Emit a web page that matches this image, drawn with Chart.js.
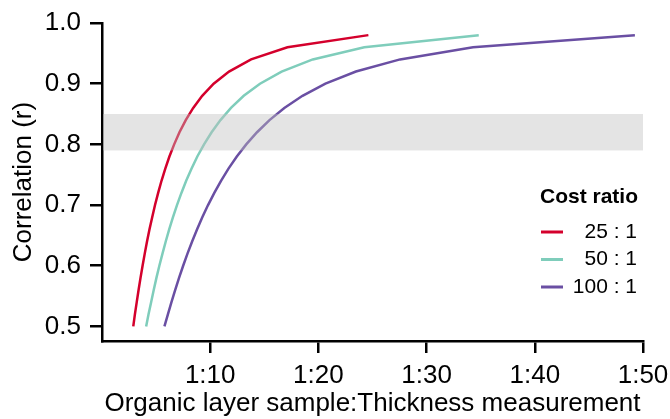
<!DOCTYPE html>
<html>
<head>
<meta charset="utf-8">
<title>Correlation vs sampling ratio</title>
<script src="https://cdn.jsdelivr.net/npm/chart.js@4.4.1/dist/chart.umd.min.js"></script>
<style>
  html, body { margin: 0; padding: 0; background: #fff; }
  canvas { display: block; }
</style>
</head>
<body>
<canvas id="ratio-chart" width="670" height="419"></canvas>
<script>
// Correlation levels (y) shared by the three curves
const corrLevels = [0.50, 0.52, 0.54, 0.56, 0.58, 0.60, 0.62, 0.64, 0.66, 0.68,
                    0.70, 0.72, 0.74, 0.76, 0.78, 0.80, 0.82, 0.84, 0.86, 0.88,
                    0.90, 0.92, 0.94, 0.96, 0.98];

// Thickness measurements per organic layer sample (x) for each cost ratio
const ratio25 = [2.89, 3.04, 3.21, 3.38, 3.56, 3.75, 3.95, 4.16, 4.39, 4.64,
                 4.90, 5.19, 5.50, 5.85, 6.23, 6.67, 7.16, 7.74, 8.43, 9.26,
                 10.32, 11.74, 13.78, 17.14, 24.62];
const ratio50 = [4.08, 4.30, 4.54, 4.78, 5.03, 5.30, 5.59, 5.89, 6.21, 6.56,
                 6.93, 7.34, 7.78, 8.27, 8.81, 9.43, 10.13, 10.95, 11.92, 13.10,
                 14.60, 16.60, 19.48, 24.24, 34.82];
const ratio100 = [5.77, 6.09, 6.42, 6.76, 7.12, 7.50, 7.90, 8.33, 8.79, 9.27,
                  9.80, 10.38, 11.00, 11.69, 12.46, 13.33, 14.33, 15.48, 16.85, 18.53,
                  20.65, 23.47, 27.55, 34.29, 49.25];

const costLabels = ['25 : 1', '50 : 1', '100 : 1'];
const costColors = ['#d4002c', '#7fcdbb', '#6a4fa3'];

const xTicks = [10, 20, 30, 40, 50];
const yTicks = [0.5, 0.6, 0.7, 0.8, 0.9, 1.0];

// Target correlation band
const bandRange = [0.79, 0.85];

const FONT = "'Liberation Sans', Arial, sans-serif";

function toPoints(xs) {
    return corrLevels.map((r, i) => ({ x: xs[i], y: r }));
}

// Grey band painted over the curves
const bandPlugin = {
    id: 'band',
    afterDatasetsDraw(chart) {
        const { ctx, chartArea, scales } = chart;
        const yTop = scales.y.getPixelForValue(bandRange[1]);
        const yBot = scales.y.getPixelForValue(bandRange[0]);
        ctx.save();
        ctx.fillStyle = 'rgba(190, 190, 190, 0.42)';
        ctx.fillRect(chartArea.left + 1, yTop, chartArea.right - chartArea.left - 1, yBot - yTop);
        ctx.restore();
    }
};

// Legend in the lower right corner of the plot
const costLegend = {
    id: 'costLegend',
    afterDraw(chart) {
        const { ctx, chartArea } = chart;
        const right = chartArea.right;
        const top = chartArea.top;
        ctx.save();
        ctx.fillStyle = '#000';
        ctx.font = 'bold 21px ' + FONT;
        ctx.textAlign = 'center';
        ctx.textBaseline = 'middle';
        ctx.fillText('Cost ratio', right - 54, top + 174);

        ctx.font = '21px ' + FONT;
        ctx.textAlign = 'right';
        chart.data.datasets.forEach((ds, i) => {
            const y = top + 209 + i * 27.5;
            ctx.strokeStyle = ds.borderColor;
            ctx.lineWidth = 3;
            ctx.beginPath();
            ctx.moveTo(right - 102, y);
            ctx.lineTo(right - 80, y);
            ctx.stroke();
            ctx.fillStyle = '#000';
            ctx.fillText(ds.label, right - 6, y);
        });
        ctx.restore();
    }
};

const canvas = document.getElementById('ratio-chart');

new Chart(canvas, {
    type: 'scatter',
    data: {
        datasets: [ratio25, ratio50, ratio100].map((xs, i) => ({
            label: costLabels[i],
            data: toPoints(xs),
            showLine: true,
            borderColor: costColors[i],
            backgroundColor: costColors[i],
            borderWidth: 2.5,
            pointRadius: 0,
            tension: 0
        }))
    },
    options: {
        responsive: false,
        animation: false,
        devicePixelRatio: 1,
        layout: {
            padding: { top: 23, right: 27, left: 0, bottom: 0 }
        },
        plugins: {
            legend: { display: false },
            tooltip: { enabled: false }
        },
        scales: {
            x: {
                type: 'linear',
                min: 0,
                max: 50,
                afterBuildTicks(scale) {
                    scale.ticks = xTicks.map(v => ({ value: v }));
                },
                afterFit(scale) {
                    scale.height = 78;
                    // the 1:50 label may hang into the right margin
                    scale.paddingLeft = 0;
                    scale.paddingRight = 0;
                },
                ticks: {
                    color: '#000',
                    padding: 7,
                    maxRotation: 0,
                    font: { family: FONT, size: 26 },
                    callback: value => '1:' + value
                },
                grid: {
                    drawOnChartArea: false,
                    drawTicks: true,
                    tickLength: 12,
                    color: '#000',
                    lineWidth: 2.5
                },
                border: { display: true, color: '#000', width: 2.5 },
                title: {
                    display: true,
                    text: 'Organic layer sample:Thickness measurement',
                    color: '#000',
                    font: { family: FONT, size: 26 },
                    padding: { top: 0, bottom: 0 }
                }
            },
            y: {
                min: 0.476,
                max: 1.0,
                afterBuildTicks(scale) {
                    scale.ticks = yTicks.map(v => ({ value: v }));
                },
                afterFit(scale) {
                    scale.width = 102;
                    scale.paddingTop = 0;
                    scale.paddingBottom = 0;
                },
                ticks: {
                    color: '#000',
                    padding: 9,
                    font: { family: FONT, size: 26 },
                    callback: value => value.toFixed(1)
                },
                grid: {
                    drawOnChartArea: false,
                    drawTicks: true,
                    tickLength: 12,
                    color: '#000',
                    lineWidth: 2.5
                },
                border: { display: true, color: '#000', width: 2.5 },
                title: {
                    display: true,
                    text: 'Correlation (r)',
                    color: '#000',
                    font: { family: FONT, size: 26 },
                    padding: { top: 8, bottom: 0 }
                }
            }
        }
    },
    plugins: [bandPlugin, costLegend]
});
</script>
</body>
</html>
